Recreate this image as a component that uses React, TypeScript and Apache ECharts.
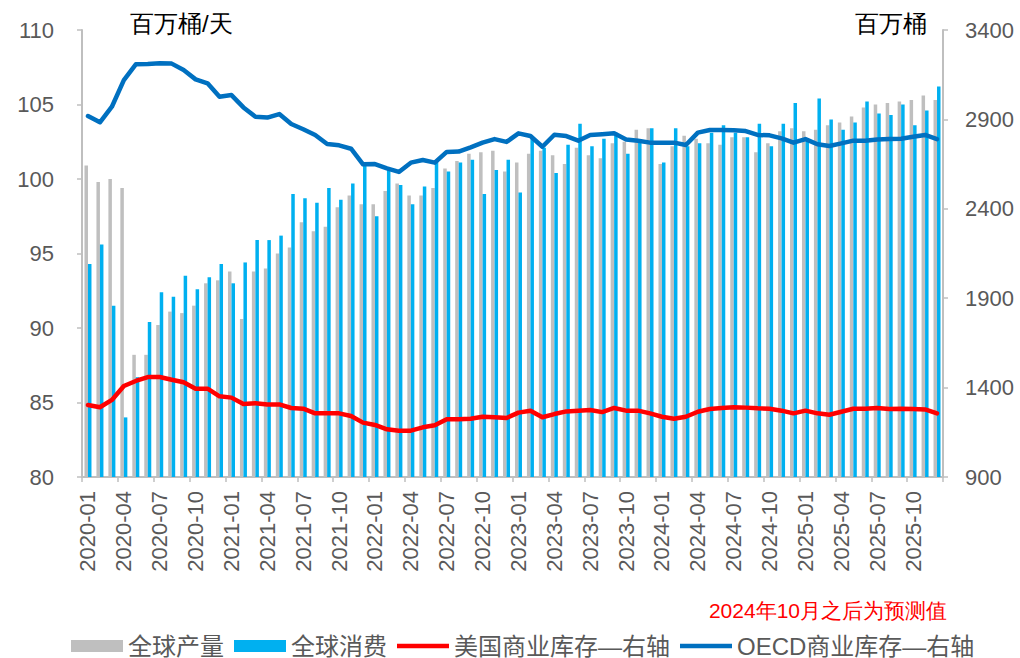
import React, { useEffect, useRef } from "react";
import * as echarts from "echarts";

const months: string[] = [];
for (let y = 2020; y <= 2025; y++) {
  for (let m = 1; m <= 12; m++) months.push(`${y}-${m < 10 ? "0" + m : m}`);
}

const globalProduction = [
  100.9, 99.8, 100.0, 99.4, 88.2, 88.2, 90.2, 91.1, 91.0, 91.5, 93.0, 93.2,
  93.8, 90.6, 93.8, 94.0, 95.0, 95.4, 97.1, 96.5, 96.8, 98.1, 98.9, 98.3,
  98.3, 99.2, 99.7, 98.9, 98.9, 99.4, 100.7, 101.2, 101.7, 101.8, 101.9, 100.5,
  101.1, 101.7, 101.9, 101.6, 101.0, 102.1, 101.6, 101.4, 102.4, 102.5, 103.3, 103.4,
  101.0, 102.2, 102.9, 102.7, 102.4, 102.3, 102.8, 102.8, 101.8, 102.4, 103.2, 103.4,
  103.2, 103.3, 103.6, 103.8, 104.2, 104.8, 105.0, 105.1, 105.2, 105.3, 105.6, 105.3,
];

const globalConsumption = [
  94.3, 95.6, 91.5, 84.0, 86.7, 90.4, 92.4, 92.1, 93.5, 92.6, 93.4, 94.3,
  93.0, 94.4, 95.9, 95.9, 96.2, 99.0, 98.7, 98.4, 99.4, 98.6, 99.7, 101.1,
  97.5, 100.6, 99.6, 98.3, 99.5, 101.2, 100.5, 101.1, 101.3, 99.0, 100.6, 101.3,
  99.1, 102.7, 102.1, 100.4, 102.3, 103.7, 102.2, 102.7, 103.1, 101.7, 102.6, 103.4,
  101.1, 103.4, 102.2, 102.4, 103.1, 103.6, 103.1, 102.8, 103.7, 102.2, 103.7, 105.1,
  102.5, 105.4, 104.0, 103.3, 103.8, 105.2, 104.4, 104.3, 105.0, 103.6, 104.6, 106.2,
];

const usCommercialStocks = [
  1303, 1290, 1331, 1409, 1437, 1459, 1459, 1444, 1430, 1394, 1394, 1351,
  1344, 1308, 1313, 1305, 1306, 1286, 1282, 1256, 1256, 1256, 1241, 1204,
  1191, 1167, 1159, 1159, 1178, 1189, 1223, 1223, 1226, 1237, 1234, 1230,
  1260, 1271, 1234, 1252, 1267, 1271, 1275, 1263, 1286, 1271, 1271, 1256,
  1237, 1226, 1237, 1265, 1280, 1286, 1290, 1288, 1284, 1282, 1271, 1256,
  1271, 1256, 1248, 1265, 1282, 1282, 1286, 1280, 1282, 1280, 1278, 1256,
];

const oecdCommercialStocks = [
  2919, 2884, 2971, 3120, 3208, 3210, 3214, 3212, 3176, 3124, 3102, 3027,
  3036, 2967, 2915, 2910, 2930, 2874, 2845, 2813, 2762, 2755, 2736, 2649,
  2650, 2626, 2606, 2658, 2673, 2658, 2718, 2720, 2744, 2770, 2790, 2774,
  2822, 2807, 2747, 2814, 2807, 2781, 2813, 2817, 2822, 2788, 2781, 2770,
  2770, 2770, 2757, 2826, 2841, 2841, 2839, 2835, 2813, 2811, 2794, 2770,
  2790, 2761, 2751, 2766, 2781, 2781, 2788, 2790, 2792, 2803, 2813, 2790,
];

const seriesNames = ["全球产量", "全球消费", "美国商业库存—右轴", "OECD商业库存—右轴"];

const FONT = "'Liberation Sans', Arial, 'Noto Sans CJK SC', sans-serif";
const AXIS_GRAY = "#bfbfbf";
const LABEL_GRAY = "#595959";
const LINE_ICON = "path://M0,0 M0,3.75 L52,3.75 L52,8.25 L0,8.25 Z M52,12";

export default function App() {
  const ref = useRef<HTMLDivElement>(null);

  useEffect(() => {
    if (!ref.current) return;
    const chart = echarts.init(ref.current, undefined, { renderer: "svg" });
    chart.setOption({
      animation: false,
      backgroundColor: "#ffffff",
      textStyle: { fontFamily: FONT },
      grid: { left: 82, right: 77, top: 30, bottom: 181, containLabel: false },
      legend: {
        left: 71,
        top: 634,
        padding: 0,
        itemWidth: 52,
        itemHeight: 12,
        itemGap: 10,
        textStyle: { fontSize: 24, color: LABEL_GRAY, fontFamily: FONT },
        data: [
          { name: seriesNames[0], icon: "rect" },
          { name: seriesNames[1], icon: "rect" },
          { name: seriesNames[2], icon: LINE_ICON },
          { name: seriesNames[3], icon: LINE_ICON },
        ],
      },
      xAxis: {
        type: "category",
        data: months,
        boundaryGap: true,
        axisLine: { show: true, lineStyle: { color: AXIS_GRAY, width: 2 } },
        axisTick: { show: true, interval: 2, length: 5, lineStyle: { color: AXIS_GRAY, width: 1.5 } },
        axisLabel: {
          interval: 2,
          rotate: 90,
          margin: 14,
          fontSize: 22,
          color: LABEL_GRAY,
          fontFamily: FONT,
        },
        splitLine: { show: false },
      },
      yAxis: [
        {
          type: "value",
          min: 80,
          max: 110,
          interval: 5,
          axisLine: { show: true, lineStyle: { color: AXIS_GRAY, width: 2 } },
          axisTick: { show: true, length: 5, lineStyle: { color: AXIS_GRAY, width: 1.5 } },
          axisLabel: { fontSize: 22, color: LABEL_GRAY, margin: 28, fontFamily: FONT },
          splitLine: { show: false },
        },
        {
          type: "value",
          min: 900,
          max: 3400,
          interval: 500,
          position: "right",
          axisLine: { show: true, lineStyle: { color: AXIS_GRAY, width: 2 } },
          axisTick: { show: true, length: 5, lineStyle: { color: AXIS_GRAY, width: 1.5 } },
          axisLabel: {
            fontSize: 22,
            color: LABEL_GRAY,
            margin: 22,
            fontFamily: FONT,
            formatter: (v: number) => String(v),
          },
          splitLine: { show: false },
        },
      ],
      series: [
        {
          name: seriesNames[0],
          type: "bar",
          yAxisIndex: 0,
          data: globalProduction,
          barWidth: 3.5,
          barGap: "0%",
          itemStyle: { color: "#bfbfbf" },
          z: 1,
        },
        {
          name: seriesNames[1],
          type: "bar",
          yAxisIndex: 0,
          data: globalConsumption,
          barWidth: 3.5,
          barGap: "0%",
          itemStyle: { color: "#00b0f0" },
          z: 1,
        },
        {
          name: seriesNames[2],
          type: "line",
          yAxisIndex: 1,
          data: usCommercialStocks,
          symbol: "none",
          lineStyle: { color: "#ff0000", width: 4.5, cap: "round", join: "round" },
          itemStyle: { color: "#ff0000" },
          z: 3,
        },
        {
          name: seriesNames[3],
          type: "line",
          yAxisIndex: 1,
          data: oecdCommercialStocks,
          symbol: "none",
          lineStyle: { color: "#0070c0", width: 4.5, cap: "round", join: "round" },
          itemStyle: { color: "#0070c0" },
          z: 4,
        },
      ],
      graphic: [
        {
          type: "text",
          left: 130,
          top: 11,
          style: { text: "百万桶/天", fontSize: 24, fill: "#000000", font: `24px ${FONT}` },
        },
        {
          type: "text",
          left: 855,
          top: 11,
          style: { text: "百万桶", fontSize: 24, fill: "#000000", font: `24px ${FONT}` },
        },
        {
          type: "text",
          right: 73,
          top: 600,
          style: { text: "2024年10月之后为预测值", fontSize: 21, fill: "#ff0000", font: `21px ${FONT}` },
        },
      ],
    });
    return () => chart.dispose();
  }, []);

  return (
    <div
      ref={ref}
      style={{ position: "fixed", left: 0, top: 0, width: 1020, height: 658 }}
    />
  );
}
